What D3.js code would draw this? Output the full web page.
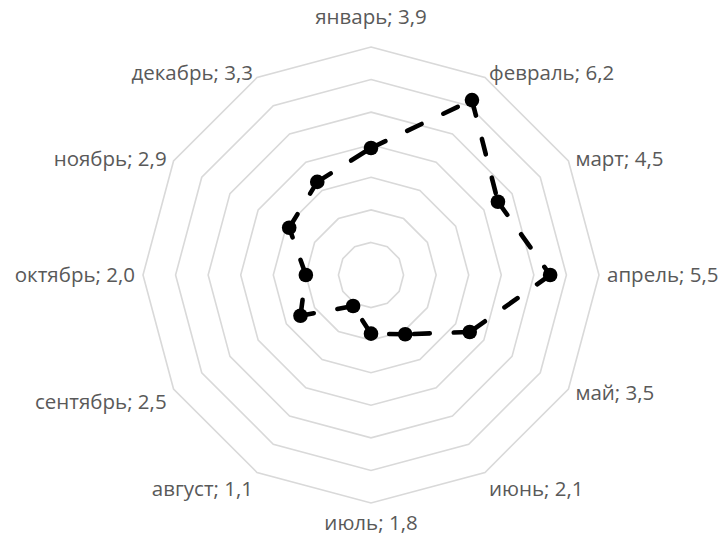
<!DOCTYPE html>
<html><head><meta charset="utf-8">
<script src="https://cdn.jsdelivr.net/npm/d3@7"></script>
<style>body{margin:0;background:#fff}svg{display:block}</style>
</head><body>
<script>
const months = ["январь","февраль","март","апрель","май","июнь","июль","август","сентябрь","октябрь","ноябрь","декабрь"];
const values = [3.9,6.2,4.5,5.5,3.5,2.1,1.8,1.1,2.5,2.0,2.9,3.3];
const ringTicks = [1,2,3,4,5,6,7];

const W = 724, H = 542, cx = 371, cy = 275, R = 228;
const svg = d3.select("body").append("svg").attr("width", W).attr("height", H);
const r = d3.scaleLinear().domain([0, 7]).range([0, R]);
const ang = d3.scaleLinear().domain([0, months.length]).range([0, 2 * Math.PI]);
const pt = (i, v) => [cx + r(v) * Math.sin(ang(i)), cy - r(v) * Math.cos(ang(i))];

// grid rings
const g = svg.append("g");
ringTicks.forEach(t => {
  g.append("path")
    .attr("d", d3.line()(months.map((m, i) => pt(i, t))) + "Z")
    .attr("fill", "none").attr("stroke", "#d9d9d9").attr("stroke-width", 1.6);
});

// segments, each dashed from its starting point
const pts = values.map((v, i) => pt(i, v));
const seg = svg.append("g");
pts.forEach((p, i) => {
  const q = pts[(i + 1) % pts.length];
  seg.append("path").attr("d", d3.line()([p, q]))
    .attr("fill", "none").attr("stroke", "#000").attr("stroke-width", 4.6)
    .attr("stroke-dasharray", "16,24").attr("stroke-linecap", "round");
});
svg.append("g").selectAll("circle").data(pts).join("circle")
  .attr("cx", d => d[0]).attr("cy", d => d[1]).attr("r", 7.3).attr("fill", "#000");

// labels
const fmt = v => d3.format(".1f")(v).replace(".", ",");
const lab = svg.append("g").attr("font-family", "'Open Sans', sans-serif").attr("font-size", 20.5).attr("fill", "#595959");
months.forEach((m, i) => {
  const a = ang(i), s = Math.sin(a), c = Math.cos(a);
  let x = cx + (R + 8) * s, y = cy - (R + 8) * c;
  let anchor = "middle";
  if (s > 0.01) anchor = "start"; else if (s < -0.01) anchor = "end";
  if (Math.abs(s) < 0.01) y += c > 0 ? -22 : 12;
  else if (c < -0.5) y += 9;
  else if (c > 0.5) y += 2;
  lab.append("text").attr("x", x).attr("y", y).attr("dy", "0.35em")
    .attr("text-anchor", anchor).text(m + "; " + fmt(values[i]));
});
</script>
</body></html>
